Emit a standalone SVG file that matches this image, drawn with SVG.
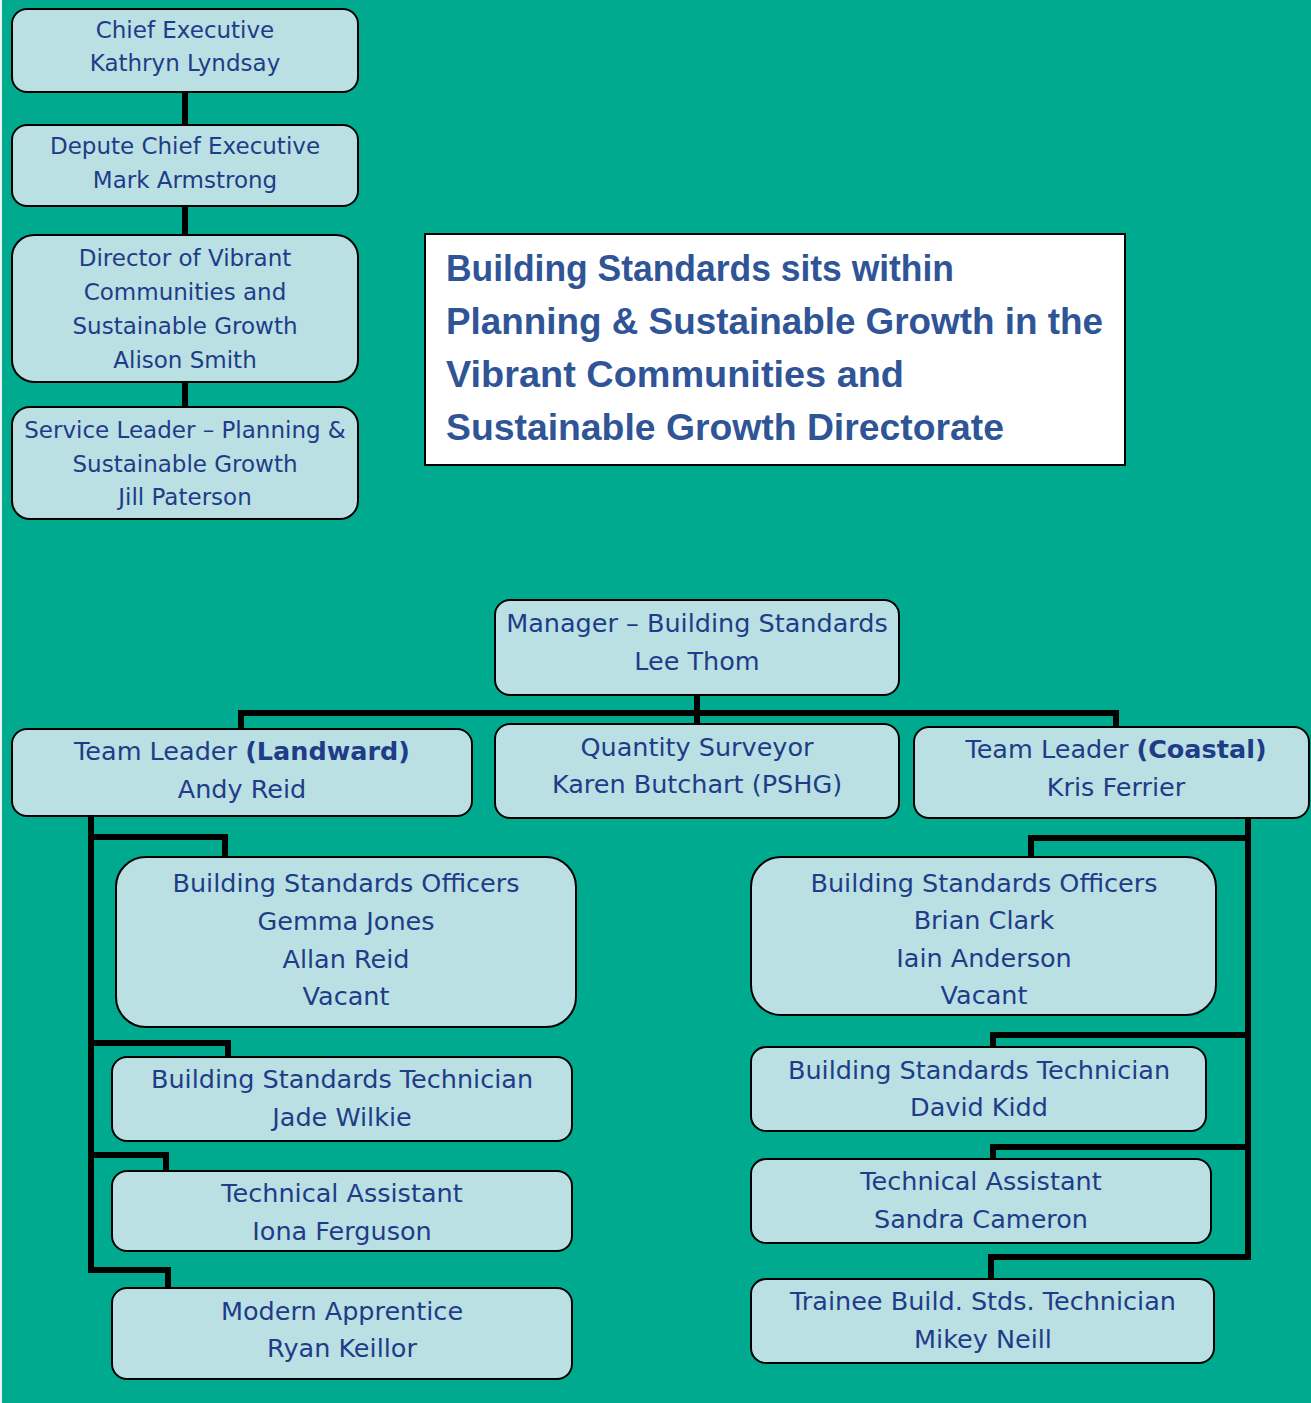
<svg xmlns="http://www.w3.org/2000/svg" width="1311" height="1403" viewBox="0 0 1311 1403">
<style>
.bx{fill:#BAE0E3;stroke:#000;stroke-width:2}
.t{font-family:"DejaVu Sans",sans-serif;fill:#1F3C88;text-anchor:middle}
.s{font-size:23px}
.m{font-size:25.5px}
.b{font-weight:bold}
.ttl{font-family:"Liberation Sans",Arial,sans-serif;font-weight:bold;font-size:36px;fill:#2F5597}
.c{fill:none;stroke:#000;stroke-width:6;stroke-linejoin:miter;stroke-linecap:butt}
</style>
<rect x="0" y="0" width="1311" height="1403" fill="#00AA8F"/>
<rect x="0" y="0" width="2" height="1403" fill="#E8F4F2"/>
<g id="connectors">
<path class="c" d="M185 92V125M185 206V235M185 382V407"/>
<path class="c" d="M697 695V724M241 729V713H1116V727"/>
<path class="c" d="M91 816V1270H168V1288M91 837H225V857M91 1043H228V1057M91 1155H166V1171"/>
<path class="c" d="M1248 818V1257H991V1279M1248 838H1031V857M1248 1035H993V1047M1248 1147H993V1159"/>
</g>
<g id="chief-exec">
<rect class="bx" x="12" y="9" width="346" height="83" rx="15"/>
<text class="t s" x="185" y="38">Chief Executive</text>
<text class="t s" x="185" y="71">Kathryn Lyndsay</text>
</g>
<g id="depute-chief-exec">
<rect class="bx" x="12" y="125" width="346" height="81" rx="15"/>
<text class="t s" x="185" y="154">Depute Chief Executive</text>
<text class="t s" x="185" y="188">Mark Armstrong</text>
</g>
<g id="director">
<rect class="bx" x="12" y="235" width="346" height="147" rx="22"/>
<text class="t s" x="185" y="266">Director of Vibrant</text>
<text class="t s" x="185" y="300">Communities and</text>
<text class="t s" x="185" y="334">Sustainable Growth</text>
<text class="t s" x="185" y="368">Alison Smith</text>
</g>
<g id="service-leader">
<rect class="bx" x="12" y="407" width="346" height="112" rx="18"/>
<text class="t s" x="185" y="438">Service Leader – Planning &amp;</text>
<text class="t s" x="185" y="472">Sustainable Growth</text>
<text class="t s" x="185" y="505">Jill Paterson</text>
</g>
<g id="title">
<rect x="425" y="234" width="700" height="231" fill="#FFFFFF" stroke="#000" stroke-width="2"/>
<text class="ttl" x="446" y="281" textLength="508" lengthAdjust="spacingAndGlyphs">Building Standards sits within</text>
<text class="ttl" x="446" y="334" textLength="657" lengthAdjust="spacingAndGlyphs">Planning &amp; Sustainable Growth in the</text>
<text class="ttl" x="446" y="387" textLength="458" lengthAdjust="spacingAndGlyphs">Vibrant Communities and</text>
<text class="ttl" x="446" y="440" textLength="558" lengthAdjust="spacingAndGlyphs">Sustainable Growth Directorate</text>
</g>
<g id="manager">
<rect class="bx" x="495" y="600" width="404" height="95" rx="15"/>
<text class="t m" x="697" y="632">Manager – Building Standards</text>
<text class="t m" x="697" y="670">Lee Thom</text>
</g>
<g id="team-leader-landward">
<rect class="bx" x="12" y="729" width="460" height="87" rx="15"/>
<text class="t m" x="242" y="760">Team Leader <tspan class="b">(Landward)</tspan></text>
<text class="t m" x="242" y="798">Andy Reid</text>
</g>
<g id="quantity-surveyor">
<rect class="bx" x="495" y="724" width="404" height="94" rx="15"/>
<text class="t m" x="697" y="756">Quantity Surveyor</text>
<text class="t m" x="697" y="793">Karen Butchart (PSHG)</text>
</g>
<g id="team-leader-coastal">
<rect class="bx" x="914" y="727" width="395" height="91" rx="15"/>
<text class="t m" x="1116" y="758">Team Leader <tspan class="b">(Coastal)</tspan></text>
<text class="t m" x="1116" y="796">Kris Ferrier</text>
</g>
<g id="bso-landward">
<rect class="bx" x="116" y="857" width="460" height="170" rx="30"/>
<text class="t m" x="346" y="892">Building Standards Officers</text>
<text class="t m" x="346" y="930">Gemma Jones</text>
<text class="t m" x="346" y="968">Allan Reid</text>
<text class="t m" x="346" y="1005">Vacant</text>
</g>
<g id="bst-landward">
<rect class="bx" x="112" y="1057" width="460" height="84" rx="15"/>
<text class="t m" x="342" y="1088">Building Standards Technician</text>
<text class="t m" x="342" y="1126">Jade Wilkie</text>
</g>
<g id="ta-landward">
<rect class="bx" x="112" y="1171" width="460" height="80" rx="15"/>
<text class="t m" x="342" y="1202">Technical Assistant</text>
<text class="t m" x="342" y="1240">Iona Ferguson</text>
</g>
<g id="apprentice-landward">
<rect class="bx" x="112" y="1288" width="460" height="91" rx="15"/>
<text class="t m" x="342" y="1320">Modern Apprentice</text>
<text class="t m" x="342" y="1357">Ryan Keillor</text>
</g>
<g id="bso-coastal">
<rect class="bx" x="751" y="857" width="465" height="158" rx="30"/>
<text class="t m" x="984" y="892">Building Standards Officers</text>
<text class="t m" x="984" y="929">Brian Clark</text>
<text class="t m" x="984" y="967">Iain Anderson</text>
<text class="t m" x="984" y="1004">Vacant</text>
</g>
<g id="bst-coastal">
<rect class="bx" x="751" y="1047" width="455" height="84" rx="15"/>
<text class="t m" x="979" y="1079">Building Standards Technician</text>
<text class="t m" x="979" y="1116">David Kidd</text>
</g>
<g id="ta-coastal">
<rect class="bx" x="751" y="1159" width="460" height="84" rx="15"/>
<text class="t m" x="981" y="1190">Technical Assistant</text>
<text class="t m" x="981" y="1228">Sandra Cameron</text>
</g>
<g id="trainee-coastal">
<rect class="bx" x="751" y="1279" width="463" height="84" rx="15"/>
<text class="t m" x="983" y="1310">Trainee Build. Stds. Technician</text>
<text class="t m" x="983" y="1348">Mikey Neill</text>
</g>
</svg>
